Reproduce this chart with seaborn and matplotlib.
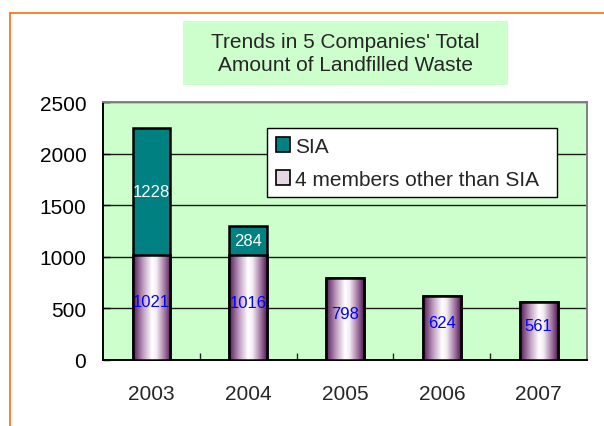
import seaborn as sns
import matplotlib.pyplot as plt
import numpy as np
import pandas as pd
from matplotlib.colors import LinearSegmentedColormap
from matplotlib.patches import Patch, Rectangle
from matplotlib.lines import Line2D

# data
years = ['2003', '2004', '2005', '2006', '2007']
other = [1021, 1016, 798, 624, 561]
sia = [1228, 284, 0, 0, 0]

df = pd.DataFrame({'year': years, 'other': other, 'sia': sia})
df['total'] = df['other'] + df['sia']

sns.set_style('white')
plt.rcParams['font.family'] = ['Liberation Sans', 'DejaVu Sans']

fig = plt.figure(figsize=(6.04, 4.27), dpi=100)
ax = fig.add_axes([0.1705, 0.1546, 0.8015, 0.6035])
ax.set_facecolor('#ccffcc')

bw = 0.39
sns.barplot(data=df, x='year', y='total', color='#008080', saturation=1,
            width=bw, edgecolor='black', linewidth=1.8, ax=ax, zorder=3)
sns.barplot(data=df, x='year', y='other', color='white', saturation=1,
            width=bw, edgecolor='black', linewidth=1.8, ax=ax, zorder=5)

# purple-white-purple gradient fill on the lower bars
cmap = LinearSegmentedColormap.from_list(
    'pw', [(0, '#531a53'), (0.28, '#c4a2c4'), (0.5, '#ffffff'),
           (0.62, '#f4eef4'), (0.85, '#9c6e9c'), (1, '#531a53')])
grad = np.linspace(0, 1, 256).reshape(1, -1)
for p in ax.containers[1]:
    p.set_facecolor('none')
    x0, w, h = p.get_x(), p.get_width(), p.get_height()
    im = ax.imshow(grad, extent=[x0, x0 + w, 0, h], aspect='auto',
                   cmap=cmap, zorder=4, interpolation='bilinear')
    im.set_clip_path(p)

ax.set_xlim(-0.5, 4.5)
ax.set_ylim(0, 2500)
ax.set_yticks(range(0, 2501, 500))
ax.set_axisbelow(True)
ax.yaxis.grid(True, color='#1a1a1a', linewidth=1.0)
ax.set_xlabel('')
ax.set_ylabel('')

# value labels
for i, (o, s) in enumerate(zip(other, sia)):
    ax.annotate(str(o), (i, o / 2), xytext=(0, 4), textcoords='offset points',
                ha='center', va='center', color='#0000ff', fontsize=12, zorder=6)
    if s > 0:
        ax.text(i, o + s / 2, str(s), ha='center', va='center',
                color='white', fontsize=12, zorder=6)

ax.tick_params(axis='y', direction='in', length=5, width=1, labelsize=15,
               pad=12, left=True, colors='black')
ax.tick_params(axis='x', which='major', length=0, labelsize=15, pad=17)
ax.set_xticks([0.5, 1.5, 2.5, 3.5], minor=True)
ax.tick_params(axis='x', which='minor', direction='in', length=5, width=1,
               bottom=True)

for side in ['left', 'bottom']:
    ax.spines[side].set_color('black')
    ax.spines[side].set_linewidth(1.4)
for side in ['top', 'right']:
    ax.spines[side].set_color('#808080')
    ax.spines[side].set_linewidth(1.4)

handles = [Patch(facecolor='#008080', edgecolor='black', linewidth=1.2),
           Patch(facecolor='#e6d6e6', edgecolor='black', linewidth=1.2)]
leg = ax.legend(handles, ['SIA', '4 members other than SIA'],
                loc='upper left', bbox_to_anchor=(0.339, 0.619, 0.599, 0.28),
                mode='expand', fontsize=15, frameon=True, fancybox=False,
                handlelength=0.7, handleheight=0.7, handletextpad=0.2,
                labelspacing=0.65, borderpad=0.42, borderaxespad=0)
leg.get_frame().set_edgecolor('black')
leg.get_frame().set_linewidth(1.0)
leg.get_frame().set_facecolor('white')
leg.get_frame().set_alpha(1)

# title box
fig.patches.append(Rectangle((0.303, 0.7986), 0.538, 0.150,
                             transform=fig.transFigure, facecolor='#ccffcc',
                             edgecolor='none'))
fig.text(0.572, 0.874, "Trends in 5 Companies' Total\nAmount of Landfilled Waste",
         ha='center', va='center', fontsize=15, linespacing=1.3)

# orange frame
fig.lines.append(Line2D([0.0166, 1.0], [0.967, 0.967], transform=fig.transFigure,
                        color='#ff6a13', linewidth=1.2))
fig.lines.append(Line2D([0.0166, 0.0166], [0.0, 0.967], transform=fig.transFigure,
                        color='#ff6a13', linewidth=1.2))

fig.savefig('out.png', dpi=100)
